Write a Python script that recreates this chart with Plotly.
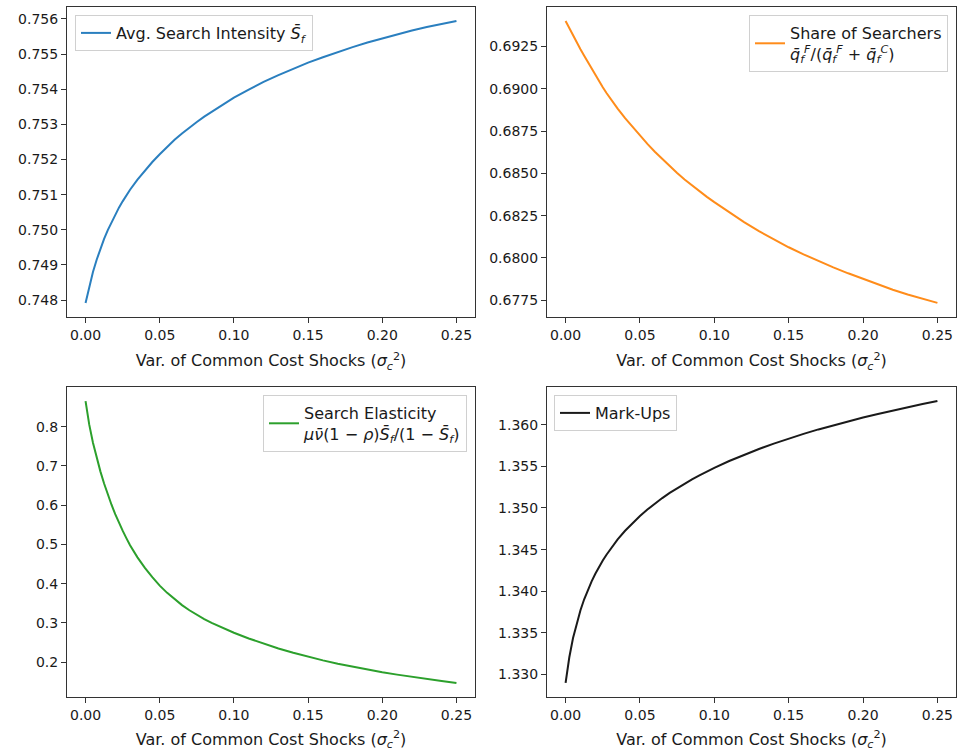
import plotly.graph_objects as go
from plotly.subplots import make_subplots

# Variance of common cost shocks (sigma_c^2)
sigma_c2 = [0.0, 0.0025, 0.005, 0.0075, 0.01, 0.0125, 0.015, 0.0175, 0.02, 0.0225,
            0.025, 0.0275, 0.03, 0.035, 0.04, 0.045, 0.05, 0.055, 0.06, 0.065,
            0.07, 0.075, 0.08, 0.085, 0.09, 0.095, 0.10, 0.11, 0.12, 0.13,
            0.14, 0.15, 0.16, 0.17, 0.18, 0.19, 0.20, 0.21, 0.22, 0.23,
            0.24, 0.25]

search_intensity = [0.74792, 0.74840, 0.74880, 0.74915, 0.74946, 0.74974, 0.74999,
                    0.75022, 0.75043, 0.75063, 0.75081, 0.75098, 0.75114, 0.75143,
                    0.75169, 0.75193, 0.75215, 0.75236, 0.75256, 0.75274, 0.75291,
                    0.75307, 0.75322, 0.75336, 0.75350, 0.75363, 0.75376, 0.75399,
                    0.75421, 0.75440, 0.75459, 0.75476, 0.75491, 0.75506, 0.75520,
                    0.75533, 0.75545, 0.75556, 0.75567, 0.75577, 0.75586, 0.75594]

share_searchers = [0.69400, 0.69357, 0.69315, 0.69274, 0.69234, 0.69195, 0.69156,
                   0.69118, 0.69080, 0.69044, 0.69009, 0.68975, 0.68942, 0.68883,
                   0.68826, 0.68773, 0.68722, 0.68674, 0.68628, 0.68584, 0.68542,
                   0.68502, 0.68463, 0.68428, 0.68394, 0.68361, 0.68330, 0.68269,
                   0.68212, 0.68158, 0.68109, 0.68063, 0.68021, 0.67981, 0.67944,
                   0.67909, 0.67876, 0.67843, 0.67812, 0.67784, 0.67757, 0.67734]

search_elasticity = [0.865, 0.805, 0.759, 0.720, 0.686, 0.655, 0.627, 0.601, 0.577,
                     0.555, 0.535, 0.516, 0.498, 0.467, 0.440, 0.4165, 0.395, 0.3765,
                     0.3600, 0.3453, 0.3322, 0.3204, 0.3097, 0.2999, 0.2909, 0.2826,
                     0.2749, 0.2603, 0.2470, 0.2349, 0.2238, 0.2136, 0.2045, 0.1961,
                     0.1883, 0.1811, 0.1744, 0.1682, 0.1624, 0.1570, 0.1519, 0.1471]

markups = [1.32900, 1.33208, 1.33438, 1.33621, 1.33773, 1.33904, 1.34018, 1.34119,
           1.34210, 1.34293, 1.34369, 1.34439, 1.34504, 1.34622, 1.34726, 1.34819,
           1.34904, 1.34981, 1.35053, 1.35119, 1.35181, 1.35238, 1.35293, 1.35344,
           1.35392, 1.35438, 1.35482, 1.35564, 1.35639, 1.35708, 1.35773, 1.35833,
           1.35889, 1.35943, 1.35993, 1.36040, 1.36085, 1.36128, 1.36170, 1.36209,
           1.36247, 1.36283]

x_ticks = [0.00, 0.05, 0.10, 0.15, 0.20, 0.25]
ticks_intensity = [0.748, 0.749, 0.750, 0.751, 0.752, 0.753, 0.754, 0.755, 0.756]
ticks_share = [0.6775, 0.6800, 0.6825, 0.6850, 0.6875, 0.6900, 0.6925]
ticks_elasticity = [0.2, 0.3, 0.4, 0.5, 0.6, 0.7, 0.8]
ticks_markups = [1.330, 1.335, 1.340, 1.345, 1.350, 1.355, 1.360]

names = [
    "Avg. Search Intensity <i>S\u0304</i><sub><i>f</i></sub>",
    "Share of Searchers<br><i>q\u0304</i><sub><i>f</i></sub><sup><i>F</i></sup>/"
    "(<i>q\u0304</i><sub><i>f</i></sub><sup><i>F</i></sup> + "
    "<i>q\u0304</i><sub><i>f</i></sub><sup><i>C</i></sup>)",
    "Search Elasticity<br><i>\u03bc\u03bd\u0304</i>(1 \u2212 <i>\u03c1</i>)"
    "<i>S\u0304</i><sub><i>f</i></sub>/(1 \u2212 <i>S\u0304</i><sub><i>f</i></sub>)",
    "Mark-Ups",
]
colors = ["#2a7fbf", "#ff8c1a", "#2ca02c", "#1a1a1a"]
series = [search_intensity, share_searchers, search_elasticity, markups]
yticks = [ticks_intensity, ticks_share, ticks_elasticity, ticks_markups]
yfmt = [".3f", ".4f", ".1f", ".3f"]

W, H = 957, 751
FONT = "DejaVu Sans"
TXT = "#1a1a1a"

fig = make_subplots(rows=2, cols=2)

# panel boxes in pixels: (left, right, top, bottom)
boxes = [(67, 475, 7, 317), (547, 956, 7, 317), (67, 475, 387, 697), (547, 956, 387, 697)]

legend_ids = ["legend", "legend2", "legend3", "legend4"]
legend_pos = [
    dict(x=75 / W, y=1 - 15 / H, xanchor="left", yanchor="top"),
    dict(x=948 / W, y=1 - 15 / H, xanchor="right", yanchor="top"),
    dict(x=467 / W, y=1 - 395 / H, xanchor="right", yanchor="top"),
    dict(x=554 / W, y=1 - 395 / H, xanchor="left", yanchor="top"),
]

for i, (ys, name, col) in enumerate(zip(series, names, colors)):
    r, c = divmod(i, 2)
    fig.add_trace(
        go.Scatter(x=sigma_c2, y=ys, mode="lines", name=name,
                   line=dict(color=col, width=2),
                   legend=legend_ids[i], showlegend=True),
        row=r + 1, col=c + 1,
    )

axis_common = dict(
    showgrid=False, zeroline=False, showline=True, mirror=True,
    linecolor="#333333", linewidth=1, ticks="outside", ticklen=5,
    tickwidth=1, tickcolor="#333333",
    tickfont=dict(family=FONT, size=14, color=TXT),
)

layout = dict(
    width=W, height=H, autosize=False,
    margin=dict(l=0, r=0, t=0, b=0),
    plot_bgcolor="white", paper_bgcolor="white",
    font=dict(family=FONT, size=16, color=TXT),
)

for i in range(4):
    left, right, top, bottom = boxes[i]
    sfx = "" if i == 0 else str(i + 1)
    ys = series[i]
    lo, hi = min(ys), max(ys)
    pad = 0.05 * (hi - lo)
    layout["xaxis" + sfx] = dict(
        axis_common, domain=[left / W, right / W],
        range=[-0.0125, 0.2625], tickvals=x_ticks, tickformat=".2f",
        title=dict(text="Var. of Common Cost Shocks (<i>\u03c3</i><sub><i>c</i></sub><sup>2</sup>)",
                   font=dict(family=FONT, size=16, color=TXT), standoff=13),
    )
    layout["yaxis" + sfx] = dict(
        axis_common, domain=[1 - bottom / H, 1 - top / H],
        range=[lo - pad, hi + pad], tickvals=yticks[i], tickformat=yfmt[i],
    )
    layout[legend_ids[i]] = dict(
        legend_pos[i], bgcolor="rgba(255,255,255,0.8)", bordercolor="#d0d0d0",
        borderwidth=1, font=dict(family=FONT, size=16, color=TXT),
        itemwidth=30, tracegroupgap=0,
    )

fig.update_layout(**layout)
fig.write_html("out.html")
